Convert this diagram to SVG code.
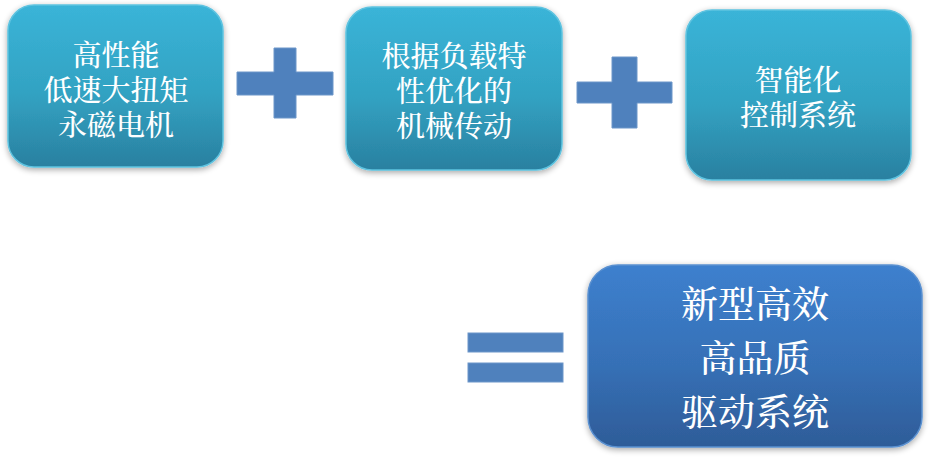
<svg xmlns="http://www.w3.org/2000/svg" width="931" height="461" viewBox="0 0 931 461">
<defs>
<linearGradient id="gTeal" x1="0" y1="0" x2="0" y2="1">
<stop offset="0" stop-color="#3AB4D8"/>
<stop offset="0.55" stop-color="#32A2C2"/>
<stop offset="1" stop-color="#2A80A0"/>
</linearGradient>
<linearGradient id="gBlue" x1="0" y1="0" x2="0" y2="1">
<stop offset="0" stop-color="#3D80CE"/>
<stop offset="0.55" stop-color="#3670B6"/>
<stop offset="1" stop-color="#2E5C98"/>
</linearGradient>
<filter id="sh" x="-10%" y="-10%" width="120%" height="125%">
<feGaussianBlur in="SourceAlpha" stdDeviation="3"/>
<feOffset dx="0" dy="2" result="b"/>
<feComponentTransfer><feFuncA type="linear" slope="0.35"/></feComponentTransfer>
<feMerge><feMergeNode/><feMergeNode in="SourceGraphic"/></feMerge>
</filter>
</defs>
<style>
.tb{fill:url(#gTeal);stroke:#5EC3E0;stroke-width:1.5;filter:url(#sh)}
.bb{fill:url(#gBlue);stroke:#5A90D0;stroke-width:1.5;filter:url(#sh)}
.op{fill:#4F81BD;stroke:#6C96C9;stroke-width:1}
.t{fill:#FFFFFF;font-family:"Noto Serif CJK SC","Noto Sans CJK SC",serif;font-size:29px;font-weight:500;text-anchor:middle}
.t2{fill:#FFFFFF;font-family:"Noto Serif CJK SC","Noto Sans CJK SC",serif;font-size:37px;font-weight:500;text-anchor:middle}
</style>
<g id="node1">
<rect class="tb" x="8" y="5" width="215" height="162" rx="26"/>
<text class="t" x="116" y="66">高性能</text>
<text class="t" x="116" y="101">低速大扭矩</text>
<text class="t" x="116" y="136">永磁电机</text>
</g>
<g id="node2">
<rect class="tb" x="346" y="7" width="216" height="163" rx="26"/>
<text class="t" x="454" y="67">根据负载特</text>
<text class="t" x="454" y="102">性优化的</text>
<text class="t" x="454" y="137">机械传动</text>
</g>
<g id="node3">
<rect class="tb" x="686" y="10" width="225" height="170" rx="26"/>
<text class="t" x="798" y="91">智能化</text>
<text class="t" x="798" y="126">控制系统</text>
</g>
<g id="node4">
<rect class="bb" x="588" y="265" width="334" height="182" rx="30"/>
<text class="t2" x="755" y="318">新型高效</text>
<text class="t2" x="755" y="372">高品质</text>
<text class="t2" x="755" y="426">驱动系统</text>
</g>
<g id="connectors">
<path class="op" d="M274 48H296V72H333V95H296V118H274V95H237V72H274Z"/>
<path class="op" d="M612 57H637V82H672V103H637V128H612V103H577V82H612Z"/>
<rect class="op" x="468" y="333" width="95" height="19"/>
<rect class="op" x="468" y="363" width="95" height="19"/>
</g>
</svg>
